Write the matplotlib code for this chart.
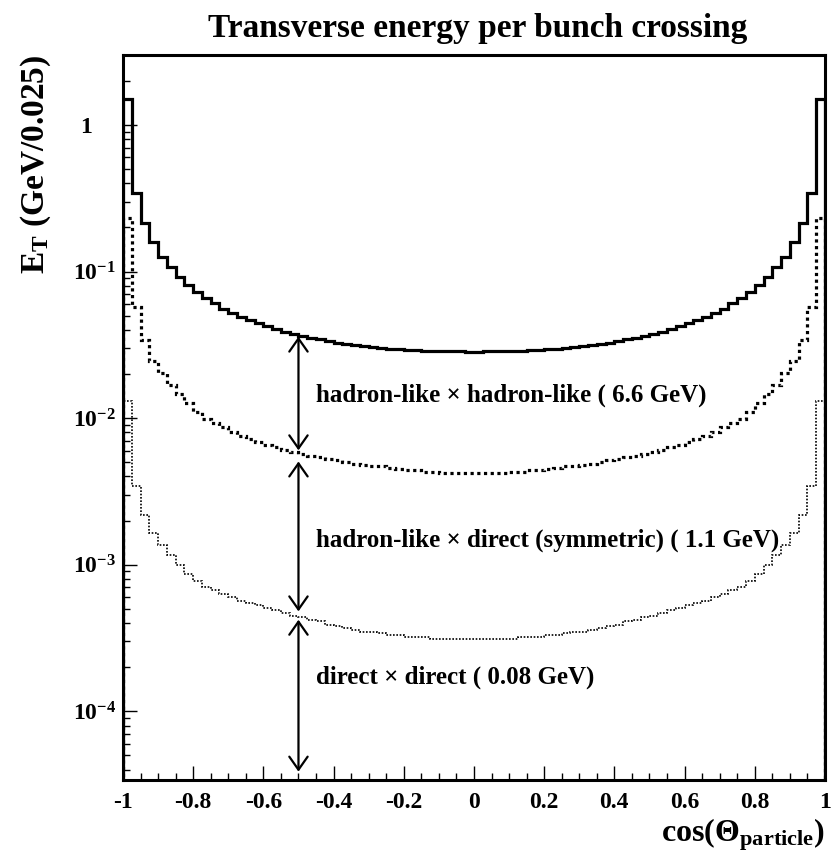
import numpy as np
import matplotlib
matplotlib.use('Agg')
import matplotlib.pyplot as plt
from matplotlib.ticker import LogLocator, MultipleLocator, NullFormatter

plt.rcParams['font.family'] = ['Liberation Serif', 'DejaVu Serif']
plt.rcParams['font.weight'] = 'bold'
plt.rcParams['mathtext.fontset'] = 'custom'
plt.rcParams['mathtext.rm'] = 'Liberation Serif:bold'
plt.rcParams['mathtext.bf'] = 'Liberation Serif:bold'
plt.rcParams['mathtext.it'] = 'Liberation Serif:bold:italic'

# 80 bins of 0.025 in cos(theta)
cos_lo, cos_hi, n_bins = -1.0, 1.0, 80

# hadron-like x hadron-like (solid)
et_hh = [1.50, 0.346, 0.216, 0.159, 0.126, 0.107, 0.0915, 0.081, 0.0727, 0.0658,
         0.0608, 0.0559, 0.052, 0.0492, 0.0466, 0.0443, 0.0423, 0.0405, 0.0389, 0.0376,
         0.0364, 0.0353, 0.0344, 0.0336, 0.0328, 0.0321, 0.0315, 0.0310, 0.0305, 0.0301,
         0.0298, 0.0295, 0.0292, 0.0290, 0.0288, 0.0287, 0.0286, 0.0285, 0.0285, 0.0284,
         0.0284, 0.0285, 0.0285, 0.0286, 0.0287, 0.0288, 0.0290, 0.0292, 0.0295, 0.0298,
         0.0301, 0.0305, 0.0310, 0.0315, 0.0321, 0.0328, 0.0336, 0.0344, 0.0353, 0.0364,
         0.0376, 0.0389, 0.0405, 0.0423, 0.0443, 0.0466, 0.0492, 0.052, 0.0559, 0.0608,
         0.0658, 0.0727, 0.081, 0.0915, 0.107, 0.126, 0.159, 0.216, 0.346, 1.50]

# hadron-like x direct, symmetric (dashed)
et_hd = [0.232, 0.0572, 0.0342, 0.0246, 0.0203, 0.0168, 0.0145, 0.0126, 0.0110, 0.0099,
         0.0093, 0.0087, 0.0080, 0.0075, 0.0072, 0.0069, 0.0066, 0.0064, 0.0061, 0.0059,
         0.0057, 0.0055, 0.0054, 0.0053, 0.0052, 0.0050, 0.0049, 0.0048, 0.0047, 0.0047,
         0.0046, 0.0045, 0.0044, 0.0044, 0.0043, 0.0043, 0.0042, 0.0042, 0.0042, 0.0042,
         0.0042, 0.0042, 0.0042, 0.0042, 0.0043, 0.0043, 0.0044, 0.0044, 0.0045, 0.0046,
         0.0047, 0.0047, 0.0048, 0.0049, 0.0050, 0.0052, 0.0053, 0.0054, 0.0055, 0.0057,
         0.0059, 0.0061, 0.0064, 0.0066, 0.0069, 0.0072, 0.0075, 0.0080, 0.0087, 0.0093,
         0.0099, 0.0110, 0.0126, 0.0145, 0.0168, 0.0203, 0.0246, 0.0342, 0.0572, 0.232]

# direct x direct (dotted)
et_dd = [0.0130, 0.00342, 0.0022, 0.00165, 0.00137, 0.00117, 0.00100, 0.00087, 0.00077, 0.00071,
         0.00067, 0.00063, 0.00060, 0.00057, 0.00055, 0.00053, 0.00051, 0.00049, 0.00047, 0.00045,
         0.00044, 0.00042, 0.00041, 0.00039, 0.00038, 0.00037, 0.00036, 0.00035, 0.00035, 0.00034,
         0.00033, 0.00033, 0.00032, 0.00032, 0.00032, 0.00031, 0.00031, 0.00031, 0.00031, 0.00031,
         0.00031, 0.00031, 0.00031, 0.00031, 0.00031, 0.00032, 0.00032, 0.00032, 0.00033, 0.00033,
         0.00034, 0.00035, 0.00035, 0.00036, 0.00037, 0.00038, 0.00039, 0.00041, 0.00042, 0.00044,
         0.00045, 0.00047, 0.00049, 0.00051, 0.00053, 0.00055, 0.00057, 0.00060, 0.00063, 0.00067,
         0.00071, 0.00077, 0.00087, 0.00100, 0.00117, 0.00137, 0.00165, 0.0022, 0.00342, 0.0130]

labels = ['hadron-like \u00d7 hadron-like ( 6.6 GeV)',
          'hadron-like \u00d7 direct (symmetric) ( 1.1 GeV)',
          'direct \u00d7 direct ( 0.08 GeV)']
y_min, y_max = 3.4e-5, 3.0
x_arrow = -0.5

edges = np.linspace(cos_lo, cos_hi, n_bins + 1)

fig = plt.figure(figsize=(8.4, 8.56), dpi=100)
ax = fig.add_axes([0.1464, 0.0888, 0.8357, 0.8469])

ax.stairs(et_hh, edges, baseline=1e-6, color='black', lw=2.3)
ax.stairs(et_hd, edges, baseline=1e-6, color='black', lw=2.3, linestyle=(0, (1, 1.1)))
ax.stairs(et_dd, edges, baseline=1e-6, color='black', lw=1.2, linestyle=(0, (1, 1)))

ax.set_yscale('log')
ax.set_xlim(cos_lo, cos_hi)
ax.set_ylim(y_min, y_max)

# arrows between the curves at cos = -0.5
ib = np.searchsorted(edges, x_arrow) - 1
arrow_ends = [(et_hh[ib], et_hd[ib], 2, 1), (et_hd[ib], et_dd[ib], 7, 3), (et_dd[ib], y_min, 3, 6)]
for top, bot, sa, sb in arrow_ends:
    ax.annotate('', xy=(x_arrow, bot), xytext=(x_arrow, top),
                arrowprops=dict(arrowstyle='<->,head_length=0.47,head_width=0.33',
                                color='black', lw=1.6, shrinkA=sa, shrinkB=sb,
                                mutation_scale=20))

# labels next to the arrows
label_y = [0.0144, 0.00146, 1.7e-4]
for txt, yy in zip(labels, label_y):
    ax.text(-0.45, yy, txt, fontsize=18, fontweight='bold', va='center', ha='left')

# axes styling, ROOT-ish
for sp in ax.spines.values():
    sp.set_linewidth(2.2)
ax.xaxis.set_minor_locator(MultipleLocator(0.05))
ax.set_xticks(np.arange(-1, 1.01, 0.2))
ax.set_xticklabels(['-1', '-0.8', '-0.6', '-0.4', '-0.2', '0', '0.2', '0.4', '0.6', '0.8', '1'])
ax.set_yticks([1e-4, 1e-3, 1e-2, 1e-1, 1],
              [r'$\mathbf{10}^{\mathbf{-4}}$', r'$\mathbf{10}^{\mathbf{-3}}$',
               r'$\mathbf{10}^{\mathbf{-2}}$', r'$\mathbf{10}^{\mathbf{-1}}$', '1    '])
ax.yaxis.set_minor_locator(LogLocator(base=10, subs=np.arange(2, 10)))
ax.yaxis.set_minor_formatter(NullFormatter())
ax.tick_params(axis='both', which='both', direction='in', top=False, right=False,
               labelsize=17)
ax.tick_params(axis='both', which='major', length=10, width=1)
ax.tick_params(axis='both', which='minor', length=5, width=1)
ax.tick_params(axis='x', which='major', pad=9)
ax.tick_params(axis='y', which='major', pad=5)

ax.set_xlabel(r'$\mathbf{cos(\Theta_{particle})}$', fontsize=23, loc='right')
ax.xaxis.set_label_coords(1.0, -0.05)
ax.set_ylabel(r'$\mathbf{E_{T}}$ (GeV/0.025)', fontsize=24, fontweight='bold', loc='top')
ax.yaxis.set_label_coords(-0.1, 1.0)

fig.text(0.569, 0.967, 'Transverse energy per bunch crossing', fontsize=24,
         fontweight='bold', ha='center', va='center')

fig.savefig('out.png', dpi=100)
